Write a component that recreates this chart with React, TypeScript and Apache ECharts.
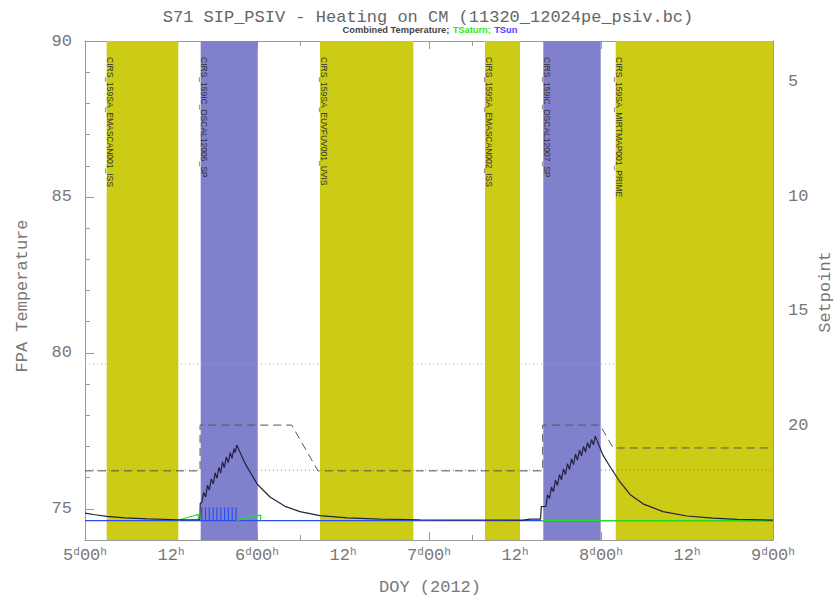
import React, { useEffect, useRef } from "react";
import * as echarts from "echarts";

// ---------- data ----------
const titleText = "S71 SIP_PSIV - Heating on CM (11320_12024pe_psiv.bc)";

const bandStart = [5.1262, 5.6727, 6.3663, 7.3256, 7.6645, 8.0855];
const bandEnd = [5.5424, 6.0041, 6.9087, 7.5291, 7.9983, 9.0];
const bandKind = [0, 1, 0, 0, 1, 0]; // 0 = SA (yellow), 1 = IC (blue)
const bandNames = [
  "CIRS_159SA_EMASCAN001_ISS",
  "CIRS_159IC_DSCAL12005_SP",
  "CIRS_159SA_EUVFUV001_UVIS",
  "CIRS_159SA_EMASCAN002_ISS",
  "CIRS_159IC_DSCAL12007_SP",
  "CIRS_159SA_MIRTMAP001_PRIME",
];

const combinedDoy = [5.0, 5.0581, 5.1279, 5.2326, 5.3605, 5.5407, 5.668, 5.67, 5.6785, 5.6901, 5.7017, 5.7122, 5.7227, 5.7343, 5.7459, 5.757, 5.7674, 5.7785, 5.789, 5.7994, 5.8099, 5.8215, 5.8331, 5.8442, 5.8547, 5.8663, 5.8738, 5.882, 5.936, 6.0029, 6.0756, 6.1628, 6.25, 6.3663, 6.5233, 6.7151, 6.9477, 7.5465, 7.5872, 7.6483, 7.6529, 7.6802, 7.689, 7.7006, 7.7122, 7.7238, 7.7355, 7.7471, 7.7587, 7.7703, 7.782, 7.7936, 7.8052, 7.8169, 7.8285, 7.8401, 7.8517, 7.8634, 7.875, 7.8866, 7.8983, 7.9099, 7.9215, 7.9331, 7.9448, 7.9564, 7.9669, 8.0116, 8.0581, 8.1105, 8.1686, 8.2442, 8.3605, 8.5, 8.6512, 8.7907, 9.0];
const combinedTemp = [74.86, 74.81, 74.76, 74.71, 74.68, 74.65, 74.65, 75.18, 75.2, 75.52, 75.38, 75.76, 75.6, 75.96, 75.8, 76.15, 75.98, 76.33, 76.15, 76.5, 76.32, 76.66, 76.48, 76.8, 76.62, 76.93, 76.8, 77.05, 76.4, 75.78, 75.38, 75.08, 74.91, 74.78, 74.71, 74.67, 74.65, 74.64, 74.67, 74.67, 75.07, 75.08, 75.45, 75.33, 75.7, 75.55, 75.92, 75.75, 76.1, 75.93, 76.28, 76.1, 76.45, 76.26, 76.6, 76.42, 76.75, 76.56, 76.88, 76.7, 77.0, 76.82, 77.12, 76.94, 77.22, 77.05, 77.33, 76.72, 76.3, 75.86, 75.46, 75.16, 74.91, 74.77, 74.7, 74.66, 74.64];

const saturnDoy = [5.5424, 5.5698, 5.5988, 5.6279, 5.6587, 5.6587, 5.77, 5.882, 5.9128, 5.9477, 5.9826, 6.0215, 6.0215, 7.0, 7.6512, 9.0];
const saturnTemp = [74.63, 74.68, 74.73, 74.77, 74.82, 74.63, null, 74.63, 74.67, 74.72, 74.76, 74.8, 74.63, null, 74.62, 74.62];

const sunBase = 74.62;
const sunSpikeDoy = [5.6785, 5.7006, 5.7227, 5.7448, 5.7669, 5.7895, 5.8116, 5.8337, 5.8558, 5.8779];
const sunSpikeTemp = [75.05, 75.04, 75.05, 75.05, 75.04, 75.05, 75.05, 75.04, 75.05, 75.05];

const setpointDoy = [5.0, 5.669, 5.669, 6.2017, 6.3547, 7.661, 7.661, 7.9942, 8.0709, 9.0];
const setpointVal = [22, 22, 20, 20, 22, 22, 20, 20, 21, 21];

const limitTemps = [79.64, 76.24];
const limitColors = ["#e4a456", "#c86060"];

const leftLabels = [75, 80, 85, 90];
const leftMinor = [75, 76, 77, 78, 79, 80, 81, 82, 83, 84, 85, 86, 87, 88, 89];
const rightLabels = [5, 10, 15, 20];
const rightMinor = [4, 5, 6, 7, 8, 9, 10, 11, 12, 13, 14, 15, 16, 17, 18, 19, 20, 21, 22, 23, 24, 25];

const YELLOW = "#cccc16";
const BLUE_BAND = "#8080cc";
const FONT = "Liberation Mono";
const GRAY_TXT = "#777";
const AXIS_GRAY = "#999";

export default function App() {
  const ref = useRef<HTMLDivElement>(null);
  useEffect(() => {
    if (!ref.current) return;
    const chart = echarts.init(ref.current, null, { renderer: "svg" });

    const bandData = bandStart.map((s, i) => [s, bandEnd[i], bandKind[i]]);
    const sunData: any[] = [[5.0, sunBase]];
    sunSpikeDoy.forEach((d, i) => {
      sunData.push([d, sunBase], [d, sunSpikeTemp[i]], [d, sunBase]);
    });
    sunData.push([9.0, sunBase]);

    const xAxisCommon = {
      type: "value",
      min: 5,
      max: 9,
      interval: 0.5,
      splitLine: { show: false },
      axisLine: { show: true, lineStyle: { color: AXIS_GRAY, width: 1 } },
      axisTick: { show: true, inside: true, length: 8, lineStyle: { color: AXIS_GRAY } },
      minorTick: { show: true, splitNumber: 2, length: 5, lineStyle: { color: AXIS_GRAY } },
    };

    const option: any = {
      animation: false,
      grid: { left: 85, right: 65, top: 41, bottom: 61, containLabel: false },
      xAxis: [
        {
          ...xAxisCommon,
          position: "bottom",
          axisLabel: {
            show: true,
            margin: 6,
            fontFamily: FONT,
            fontSize: 17,
            color: GRAY_TXT,
            formatter: (v: number) => {
              const half = Math.round(v * 2);
              if (half % 2 === 0) return `${half / 2}{s|d}00{s|h}`;
              return `12{s|h}`;
            },
            rich: {
              s: { fontFamily: FONT, fontSize: 11, color: GRAY_TXT, verticalAlign: "top", padding: [0, 0, 8, 0] },
            },
          },
        },
        { ...xAxisCommon, position: "top", axisLabel: { show: false } },
      ],
      yAxis: [
        {
          type: "value",
          min: 74,
          max: 90,
          position: "left",
          splitLine: { show: false },
          axisLine: { show: true, lineStyle: { color: AXIS_GRAY } },
          axisTick: { show: true, inside: true, length: 9, customValues: leftLabels, lineStyle: { color: AXIS_GRAY } },
          axisLabel: { show: true, customValues: leftLabels, margin: 13, fontFamily: FONT, fontSize: 17, color: GRAY_TXT },
        },
        {
          type: "value",
          min: 74,
          max: 90,
          position: "left",
          splitLine: { show: false },
          axisLine: { show: false },
          axisTick: { show: true, inside: true, length: 5, customValues: leftMinor, lineStyle: { color: AXIS_GRAY } },
          axisLabel: { show: false },
        },
        {
          type: "value",
          min: 3.22,
          max: 25.02,
          inverse: true,
          position: "right",
          splitLine: { show: false },
          axisLine: { show: true, lineStyle: { color: AXIS_GRAY } },
          axisTick: { show: true, inside: true, length: 9, customValues: rightLabels, lineStyle: { color: AXIS_GRAY } },
          axisLabel: { show: true, customValues: rightLabels, margin: 15, fontFamily: FONT, fontSize: 17, color: GRAY_TXT },
        },
        {
          type: "value",
          min: 3.22,
          max: 25.02,
          inverse: true,
          position: "right",
          splitLine: { show: false },
          axisLine: { show: false },
          axisTick: { show: true, inside: true, length: 5, customValues: rightMinor, lineStyle: { color: AXIS_GRAY } },
          axisLabel: { show: false },
        },
      ],
      graphic: [
        {
          type: "text",
          x: 428,
          y: 17,
          style: { text: titleText, fontFamily: FONT, fontSize: 17, fill: "#666", align: "center", verticalAlign: "middle" },
        },
        {
          type: "text",
          x: 430,
          y: 30,
          style: {
            text: "{a|Combined Temperature;} {g|TSaturn;} {b|TSun}",
            align: "center",
            verticalAlign: "middle",
            rich: {
              a: { fontFamily: "Liberation Sans", fontSize: 9.3, fontWeight: "bold", fill: "#444" },
              g: { fontFamily: "Liberation Sans", fontSize: 9.3, fontWeight: "bold", fill: "#22ee22" },
              b: { fontFamily: "Liberation Sans", fontSize: 9.3, fontWeight: "bold", fill: "#4444ff" },
            },
          },
        },
        {
          type: "text",
          x: 22,
          y: 296,
          rotation: Math.PI / 2,
          style: { text: "FPA Temperature", fontFamily: FONT, fontSize: 17, fill: GRAY_TXT, align: "center", verticalAlign: "middle" },
        },
        {
          type: "text",
          x: 825,
          y: 292,
          rotation: Math.PI / 2,
          style: { text: "Setpoint", fontFamily: FONT, fontSize: 17, fill: GRAY_TXT, align: "center", verticalAlign: "middle" },
        },
        {
          type: "text",
          x: 430,
          y: 587,
          style: { text: "DOY (2012)", fontFamily: FONT, fontSize: 17, fill: GRAY_TXT, align: "center", verticalAlign: "middle" },
        },
      ],
      series: [
        {
          type: "custom",
          xAxisIndex: 0,
          yAxisIndex: 0,
          z: 1,
          silent: true,
          data: bandData,
          encode: { x: [0, 1] },
          renderItem: (params: any, api: any) => {
            const p0 = api.coord([api.value(0), 90]);
            const p1 = api.coord([api.value(1), 74]);
            const kind = api.value(2);
            return {
              type: "group",
              children: [
                {
                  type: "rect",
                  shape: { x: p0[0], y: p0[1], width: p1[0] - p0[0], height: p1[1] - p0[1] },
                  style: { fill: kind === 1 ? BLUE_BAND : YELLOW },
                },
                {
                  type: "text",
                  x: p0[0] + 3.5,
                  y: p0[1] + 16,
                  rotation: -Math.PI / 2,
                  style: {
                    text: bandNames[params.dataIndex],
                    fontFamily: "Liberation Sans",
                    fontSize: 8.5,
                    fill: "#333",
                    align: "left",
                    verticalAlign: "middle",
                  },
                },
              ],
            };
          },
        },
        ...limitTemps.map((t, i) => ({
          type: "line",
          xAxisIndex: 0,
          yAxisIndex: 0,
          z: 2,
          silent: true,
          symbol: "none",
          data: [[5, t], [9, t]],
          lineStyle: { color: limitColors[i], width: 1, type: [1, 3] },
        })),
        {
          type: "line",
          name: "Setpoint",
          xAxisIndex: 0,
          yAxisIndex: 2,
          z: 3,
          silent: true,
          symbol: "none",
          data: setpointDoy.map((d, i) => [d, setpointVal[i]]),
          lineStyle: { color: "#555", width: 1, type: [8, 5] },
        },
        {
          type: "line",
          name: "TSun",
          xAxisIndex: 0,
          yAxisIndex: 0,
          z: 4,
          silent: true,
          symbol: "none",
          data: sunData,
          lineStyle: { color: "#2a4ff0", width: 1.2 },
        },
        {
          type: "line",
          name: "TSaturn",
          xAxisIndex: 0,
          yAxisIndex: 0,
          z: 5,
          silent: true,
          symbol: "none",
          connectNulls: false,
          data: saturnDoy.map((d, i) => [d, saturnTemp[i] === null ? "-" : saturnTemp[i]]),
          lineStyle: { color: "#22dd22", width: 1.2 },
        },
        {
          type: "line",
          name: "Combined Temperature",
          xAxisIndex: 0,
          yAxisIndex: 0,
          z: 6,
          silent: true,
          symbol: "none",
          data: combinedDoy.map((d, i) => [d, combinedTemp[i]]),
          lineStyle: { color: "#22223f", width: 1.2 },
        },
      ],
    };
    chart.setOption(option);
    return () => chart.dispose();
  }, []);
  return <div ref={ref} style={{ position: "fixed", left: 0, top: 0, width: 838, height: 601, background: "#fff" }} />;
}
